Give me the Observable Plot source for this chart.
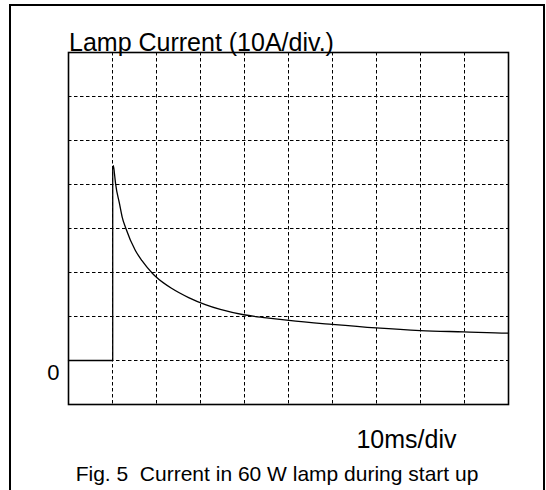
<!DOCTYPE html>
<html>
<head>
<meta charset="utf-8">
<script src="https://cdn.jsdelivr.net/npm/d3@7"></script>
<script src="https://cdn.jsdelivr.net/npm/@observablehq/plot@0.6"></script>
<style>
  html, body { margin: 0; padding: 0; background: #fff; overflow: hidden; }
  #chart { position: absolute; left: 0; top: 0; }
  #outer { position: absolute; left: 9px; top: 4px; width: 536px; height: 486px;
           border: 2px solid #000; border-bottom: none; box-sizing: border-box; pointer-events: none; }
</style>
</head>
<body>
<div id="chart"></div>
<div id="outer"></div>
<script>
// Texts
const titleText = "Lamp Current (10A/div.)";
const xUnitText = "10ms/div";
const captionText = "Fig. 5\u00a0 Current in 60 W lamp during start up";

// Grid divisions (time in ms, current in A)
const xGrid = [10, 20, 30, 40, 50, 60, 70, 80, 90];
const yGrid = [0, 10, 20, 30, 40, 50, 60];
const yLabels = [0];

// Trace before/at switch-on (ms, A)
const tOnset = [0, 10.05, 10.05];
const iOnset = [0, 0, 43.6];

// Decay of the inrush current (ms, A)
const tDecay = [10.05, 10.2, 10.45, 10.7, 11.6, 12.2, 13.0, 15.2, 16.7, 19.0, 19.8, 23.6, 27.3, 31.1, 34.5, 39.8, 45.0, 50.1, 59.9, 69.9, 80.0, 89.8, 99.7, 100];
const iDecay = [43.6, 44.3, 42.4, 40.2, 35.6, 32.6, 30.1, 25.0, 22.7, 19.9, 19.1, 16.3, 14.3, 12.7, 11.6, 10.4, 9.7, 9.1, 8.2, 7.4, 6.8, 6.5, 6.2, 6.2];

const onset = tOnset.map((t, i) => ({t, a: iOnset[i]}));
const decay = tDecay.map((t, i) => ({t, a: iDecay[i]}));

const dash = "3.5,2.5";

const chart = Plot.plot({
  width: 546,
  height: 490,
  marginLeft: 68,
  marginRight: 38,
  marginTop: 52,
  marginBottom: 86,
  style: { fontFamily: "'Liberation Sans', Arial, sans-serif", background: "transparent", color: "#000" },
  x: { domain: [0, 100], axis: null },
  y: { domain: [-10, 70], axis: null },
  marks: [
    Plot.ruleX(xGrid, { stroke: "#000", strokeWidth: 1, strokeDasharray: dash }),
    Plot.ruleY(yGrid, { stroke: "#000", strokeWidth: 1, strokeDasharray: dash }),
    Plot.line(onset, { x: "t", y: "a", stroke: "#000", strokeWidth: 1.3 }),
    Plot.line(decay, { x: "t", y: "a", stroke: "#000", strokeWidth: 1.3, curve: "monotone-x" }),
    Plot.frame({ stroke: "#000", strokeWidth: 1.6 }),
    Plot.text(yLabels, { y: d => d, text: d => String(d), frameAnchor: "left", textAnchor: "end", dx: -9, dy: 12, fontSize: 22 }),
    Plot.text([titleText], { text: d => d, frameAnchor: "top-left", textAnchor: "start", lineAnchor: "bottom", dx: 0.5, dy: -2, fontSize: 25 }),
    Plot.text([xUnitText], { text: d => d, frameAnchor: "bottom-right", textAnchor: "end", lineAnchor: "bottom", dx: -52, dy: 43, fontSize: 25 }),
    Plot.text([captionText], { text: d => d, frameAnchor: "bottom", textAnchor: "middle", lineAnchor: "bottom", dx: -11.5, dy: 76, fontSize: 21 })
  ]
});
document.getElementById("chart").appendChild(chart);
</script>
</body>
</html>
